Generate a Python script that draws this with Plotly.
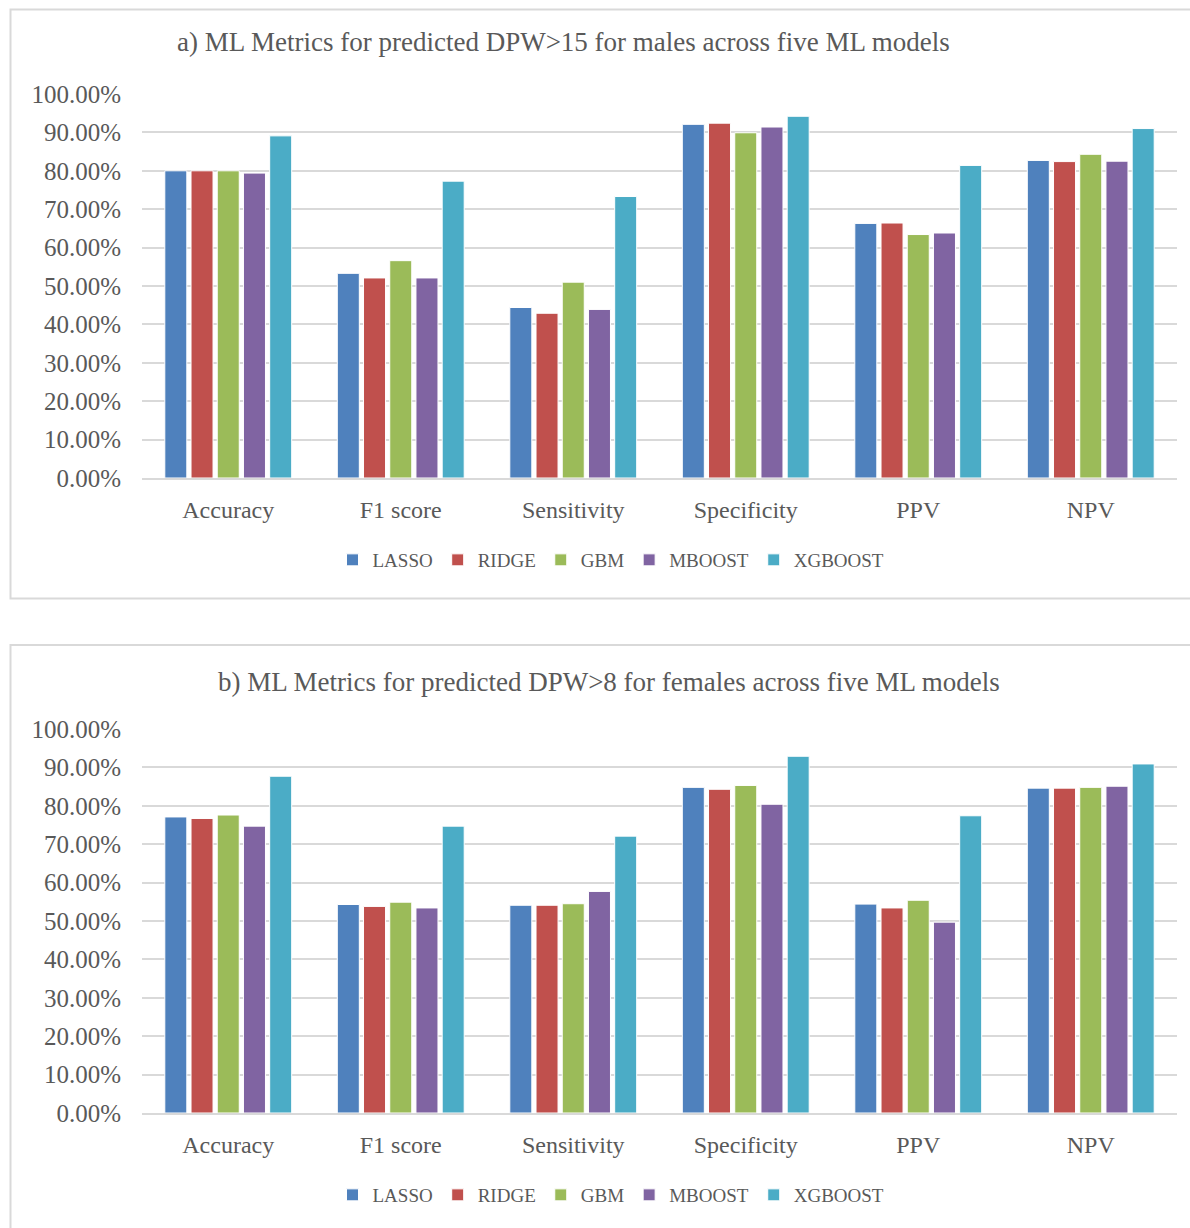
import plotly.graph_objects as go

# Metric categories and model names
metrics = ["Accuracy", "F1 score", "Sensitivity", "Specificity", "PPV", "NPV"]
models = ["LASSO", "RIDGE", "GBM", "MBOOST", "XGBOOST"]
colors = ["#4F81BD", "#C0504D", "#9BBB59", "#8064A2", "#4BACC6"]

# a) males, DPW>15 (fractions)
males_lasso = [0.800, 0.533, 0.444, 0.921, 0.663, 0.827]
males_ridge = [0.800, 0.521, 0.429, 0.924, 0.664, 0.824]
males_gbm = [0.800, 0.566, 0.510, 0.899, 0.634, 0.843]
males_mboost = [0.794, 0.521, 0.439, 0.914, 0.638, 0.825]
males_xgboost = [0.891, 0.773, 0.733, 0.942, 0.814, 0.910]

# b) females, DPW>8 (fractions)
females_lasso = [0.771, 0.543, 0.541, 0.848, 0.544, 0.846]
females_ridge = [0.767, 0.538, 0.541, 0.843, 0.534, 0.846]
females_gbm = [0.776, 0.549, 0.545, 0.853, 0.554, 0.848]
females_mboost = [0.747, 0.534, 0.577, 0.804, 0.497, 0.851]
females_xgboost = [0.877, 0.747, 0.721, 0.929, 0.774, 0.909]

title_a = "a) ML Metrics for predicted DPW>15 for males across five ML models"
title_b = "b) ML Metrics for predicted DPW>8 for females across five ML models"

W, H = 1190, 1228
FONT = "Liberation Serif"
GRAY = "#595959"
GRID = "#D9D9D9"


def px_x(x):
    return x / W


def px_y(y):
    return 1 - y / H


males = [males_lasso, males_ridge, males_gbm, males_mboost, males_xgboost]
females = [females_lasso, females_ridge, females_gbm, females_mboost, females_xgboost]

fig = go.Figure()

for i, name in enumerate(models):
    fig.add_trace(go.Bar(
        x=metrics, y=males[i], name=name, marker_color=colors[i],
        marker_line=dict(color="white", width=1),
        xaxis="x", yaxis="y", legend="legend",
    ))
for i, name in enumerate(models):
    fig.add_trace(go.Bar(
        x=metrics, y=females[i], name=name, marker_color=colors[i],
        marker_line=dict(color="white", width=1),
        xaxis="x2", yaxis="y2", legend="legend2",
    ))

x_dom = [px_x(142), px_x(1177)]
axis_common = dict(
    range=[0, 1.0], dtick=0.1, tickformat=".2%",
    showgrid=True, gridcolor=GRID, gridwidth=2,
    zeroline=False, showline=False, ticks="", ticklen=0,
    ticklabelstandoff=20, automargin=False,
    tickfont=dict(family=FONT, size=25, color=GRAY),
)
xaxis_common = dict(
    showgrid=False, zeroline=False, showline=True, linecolor=GRID, linewidth=2,
    ticks="", ticklabelstandoff=9, automargin=False,
    tickfont=dict(family=FONT, size=24, color=GRAY),
)
legend_common = dict(
    orientation="h", xanchor="center", yanchor="middle",
    font=dict(family=FONT, size=19, color=GRAY), itemwidth=30,
    bgcolor="rgba(0,0,0,0)",
)

fig.update_layout(
    width=W, height=H,
    margin=dict(l=0, r=0, t=0, b=0, autoexpand=False),
    paper_bgcolor="white", plot_bgcolor="white",
    barmode="group", bargap=0.24, bargroupgap=0.16,
    xaxis=dict(domain=x_dom, anchor="y", **xaxis_common),
    yaxis=dict(domain=[px_y(478), px_y(94)], anchor="x", **axis_common),
    xaxis2=dict(domain=x_dom, anchor="y2", **xaxis_common),
    yaxis2=dict(domain=[px_y(1113), px_y(729)], anchor="x2", **axis_common),
    legend=dict(x=611 / W, y=px_y(560), **legend_common),
    legend2=dict(x=611 / W, y=px_y(1195), **legend_common),
    annotations=[
        dict(text=title_a, x=563 / W, y=px_y(42), xref="paper", yref="paper",
             xanchor="center", yanchor="middle", showarrow=False,
             font=dict(family=FONT, size=27, color=GRAY)),
        dict(text=title_b, x=609 / W, y=px_y(682), xref="paper", yref="paper",
             xanchor="center", yanchor="middle", showarrow=False,
             font=dict(family=FONT, size=27, color=GRAY)),
    ],
    shapes=[
        dict(type="rect", xref="paper", yref="paper",
             x0=px_x(10.5), x1=px_x(1210), y0=px_y(598.5), y1=px_y(9.5),
             line=dict(color=GRID, width=2), fillcolor="rgba(0,0,0,0)", layer="below"),
        dict(type="rect", xref="paper", yref="paper",
             x0=px_x(10.5), x1=px_x(1210), y0=px_y(1250), y1=px_y(645),
             line=dict(color=GRID, width=2), fillcolor="rgba(0,0,0,0)", layer="below"),
    ],
)

fig.write_html("out.html")
